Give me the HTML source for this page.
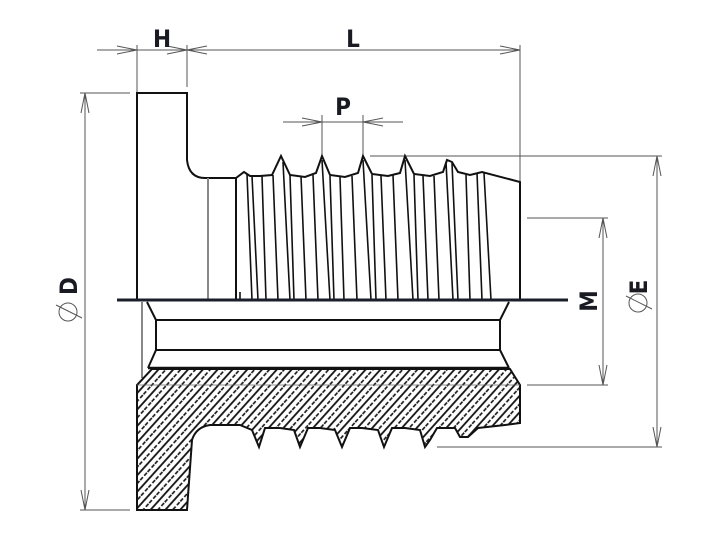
<!DOCTYPE html>
<html><head><style>html,body{margin:0;padding:0;background:#fff}svg{display:block}</style></head>
<body>
<svg width="720" height="541" viewBox="0 0 720 541" xmlns="http://www.w3.org/2000/svg">
<defs>
<pattern id="h" width="11" height="11" patternUnits="userSpaceOnUse" patternTransform="rotate(42)">
<line x1="2" y1="0" x2="2" y2="11" stroke="#111" stroke-width="1.8"/>
<line x1="7.5" y1="0" x2="7.5" y2="11" stroke="#111" stroke-width="1.6" stroke-dasharray="4 2"/>
</pattern>
</defs>
<g fill="none" stroke="#555" stroke-width="1">
<line x1="97" y1="50" x2="520" y2="50"/>
<line x1="137" y1="45" x2="137" y2="93"/>
<line x1="187" y1="45" x2="187" y2="87"/>
<line x1="520" y1="45" x2="520" y2="182"/>
<path d="M117,46 L137,50 L117,54 M207,46 L187,50 L207,54 M167,46 L187,50 L167,54 M500,46 L520,50 L500,54"/>
<line x1="85" y1="93" x2="85" y2="510"/>
<line x1="80" y1="93" x2="130" y2="93"/>
<line x1="80" y1="510" x2="130" y2="510"/>
<path d="M81,113 L85,93 L89,113 M81,490 L85,510 L89,490"/>
<line x1="283" y1="122" x2="403" y2="122"/>
<line x1="322" y1="115" x2="322" y2="155"/>
<line x1="363" y1="115" x2="363" y2="155"/>
<path d="M302,118 L322,122 L302,126 M383,118 L363,122 L383,126"/>
<line x1="370" y1="156" x2="662" y2="156"/>
<line x1="437" y1="447" x2="662" y2="447"/>
<line x1="657" y1="156" x2="657" y2="447"/>
<path d="M653,176 L657,156 L661,176 M653,427 L657,447 L661,427"/>
<line x1="527" y1="218" x2="608" y2="218"/>
<line x1="527" y1="385" x2="608" y2="385"/>
<line x1="603" y1="218" x2="603" y2="385"/>
<path d="M599,238 L603,218 L607,238 M599,365 L603,385 L607,365"/>
<circle cx="68" cy="312" r="9"/><line x1="56" y1="305" x2="82" y2="318"/>
<circle cx="638" cy="303" r="9"/><line x1="626" y1="296" x2="652" y2="309"/>
</g>
<g font-family="DejaVu Sans Condensed, DejaVu Sans, sans-serif" font-weight="bold" font-size="24" fill="#1a1a22" text-anchor="middle">
<text x="162" y="47">H</text>
<text x="353" y="47">L</text>
<text x="343" y="115">P</text>
<text transform="translate(77,286) rotate(-90)">D</text>
<text transform="translate(647,287) rotate(-90)">E</text>
<text transform="translate(597,301) rotate(-90)">M</text>
</g>
<path d="M520,423 L505,425 L478,428 L468,437 L460,437 L455,428 L437,428 L430,440 L425,447 L420,430 L405,428 L392,428 L384,447 L378,430 L362,428 L350,428 L342,447 L335,430 L320,428 L308,428 L300,447 L294,430 L280,428 L265,428 L259,447 L252,430 L240,425 L210,425 Q196,427 192,440 L187,510 L137,510 L137,385 L152,369 L510,369 L520,385 Z" fill="url(#h)" stroke="#111" stroke-width="2"/>
<line x1="137" y1="385" x2="520" y2="385" stroke="#666" stroke-width="0.8"/>
<g fill="none" stroke="#111" stroke-width="2">
<path d="M137,300 L137,93 L187,93 L187,160 Q189,178 205,178 L236,178 L236,300"/>
<path d="M236,178 L244,172 L250,176 L260,176 L272,175 L281,156 L290,175 L305,177 L316,173 L322,156 L330,175 L345,177 L358,173 L363,156 L372,174 L388,176 L400,173 L405,156 L414,174 L430,176 L443,172 L447,160 L452,162 L458,172 L470,175 L482,172 L520,182 L520,300"/>
<g stroke-width="1.6">
<path d="M247,174 L252,300 M252,176 L258,300 M262,176 L266,300 M273,175 L278,300 M283,162 L290,300 M290,175 L294,300 M301,176 L306,300 M313,175 L318,300 M322,160 L330,300 M330,176 L334,300 M340,177 L344,300 M352,176 L357,300 M363,160 L371,300 M372,175 L376,300 M381,176 L386,300 M393,175 L398,300 M405,160 L413,300 M414,175 L418,300 M423,176 L428,300 M434,176 L439,300 M446,162 L453,300 M452,163 L458,300 M466,175 L470,300 M477,173 L482,300 M484,173 L491,300"/>
<path d="M240,292 L240,300"/>
</g>
<path d="M147,302 L156,320 L156,350 L148,368 M509,302 L500,320 L500,350 L509,368 M156,320 L500,320 M156,350 L500,350"/>
<line x1="148" y1="368" x2="509" y2="368" stroke-width="2.5"/>
<line x1="142" y1="302" x2="142" y2="378" stroke-width="1"/>
</g>
<line x1="208" y1="178" x2="208" y2="300" stroke="#888" stroke-width="2"/>
<line x1="117" y1="300" x2="568" y2="300" stroke="#1a1f2a" stroke-width="3"/>
</svg>
</body></html>
